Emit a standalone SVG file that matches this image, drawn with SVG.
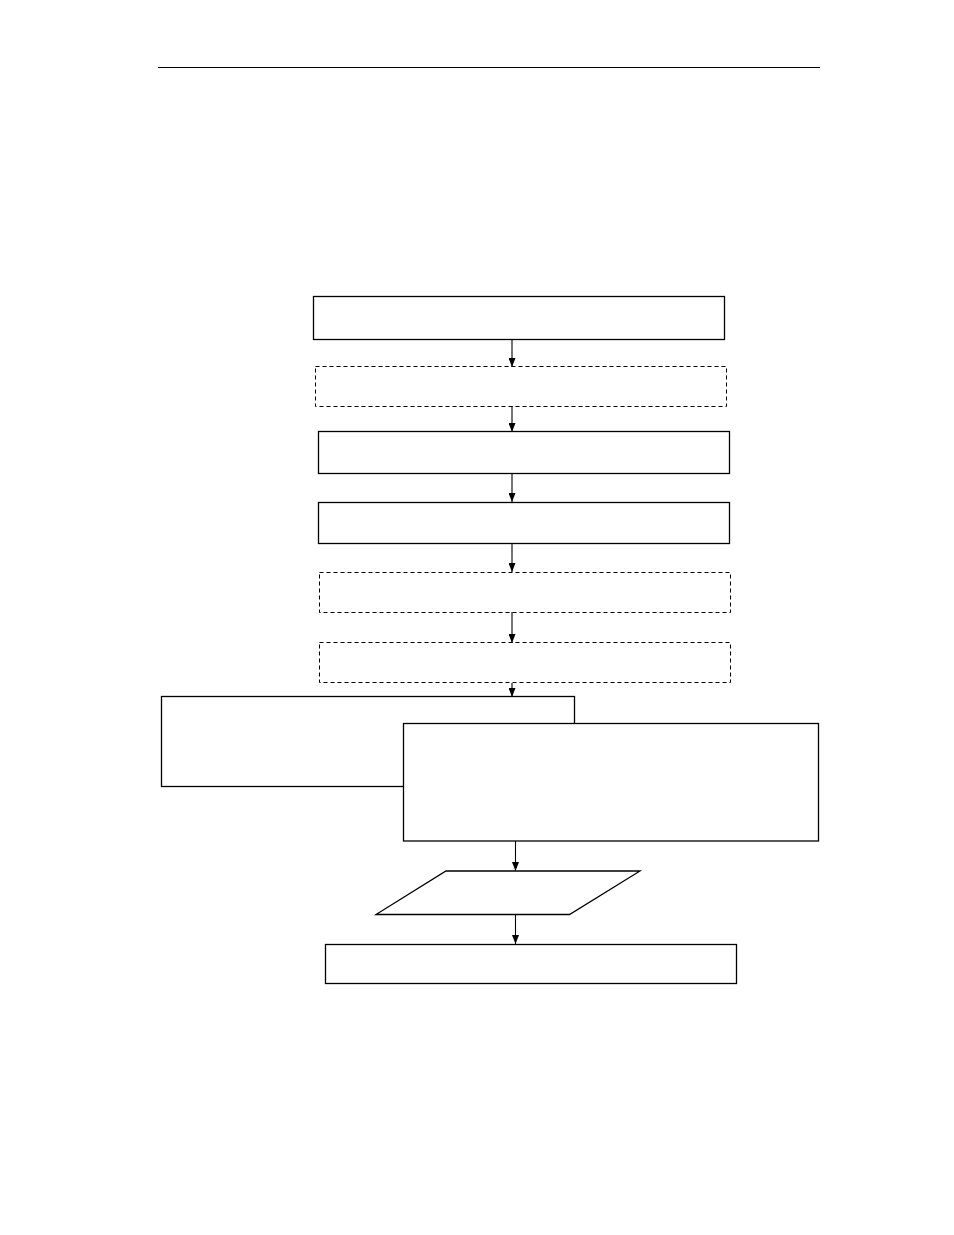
<svg xmlns="http://www.w3.org/2000/svg" width="954" height="1235" viewBox="0 0 954 1235">
<defs>
<marker id="arr" markerWidth="9" markerHeight="7" refX="9" refY="3.5" orient="auto" markerUnits="userSpaceOnUse" viewBox="0 0 9 7">
<path d="M0,0 L9,3.5 L0,7 Z" fill="#000"/>
</marker>
</defs>
<style>
.n{fill:#fff;stroke:#000;stroke-width:1.3}
.d{fill:#fff;stroke:#000;stroke-width:1;stroke-dasharray:4,3}
.c{stroke:#000;stroke-width:1.1;fill:none}
</style>
<rect width="954" height="1235" fill="#fff"/>
<line x1="158" y1="67.5" x2="820" y2="67.5" stroke="#000" stroke-width="1.2"/>
<g id="n1"><rect class="n" x="313.5" y="296.5" width="411" height="43"/></g>
<g id="n2"><rect class="d" x="315.5" y="366.5" width="411" height="40"/></g>
<g id="n3"><rect class="n" x="318.5" y="431.5" width="411" height="42"/></g>
<g id="n4"><rect class="n" x="318.5" y="502.5" width="411" height="41"/></g>
<g id="n5"><rect class="d" x="319.5" y="572.5" width="411" height="40"/></g>
<g id="n6"><rect class="d" x="319.5" y="642.5" width="411" height="40"/></g>
<g id="n7"><rect class="n" x="161.5" y="696.5" width="413" height="90"/></g>
<g id="n8"><rect class="n" x="403.5" y="723.5" width="415" height="117.5"/></g>
<g id="n9"><polygon class="n" points="446,871 640,871 569.5,914.5 376,914.5"/></g>
<g id="n10"><rect class="n" x="325.5" y="944.5" width="411" height="39"/></g>
<g id="connectors">
<line class="c" x1="512" y1="339" x2="512" y2="367" marker-end="url(#arr)"/>
<line class="c" x1="512" y1="406" x2="512" y2="432" marker-end="url(#arr)"/>
<line class="c" x1="512" y1="473" x2="512" y2="502" marker-end="url(#arr)"/>
<line class="c" x1="512" y1="543" x2="512" y2="572" marker-end="url(#arr)"/>
<line class="c" x1="512" y1="612" x2="512" y2="643" marker-end="url(#arr)"/>
<line class="c" x1="512" y1="683" x2="512" y2="697" marker-end="url(#arr)"/>
<line class="c" x1="515.5" y1="841" x2="515.5" y2="871" marker-end="url(#arr)"/>
<line class="c" x1="515.5" y1="915" x2="515.5" y2="944" marker-end="url(#arr)"/>
</g>
</svg>
